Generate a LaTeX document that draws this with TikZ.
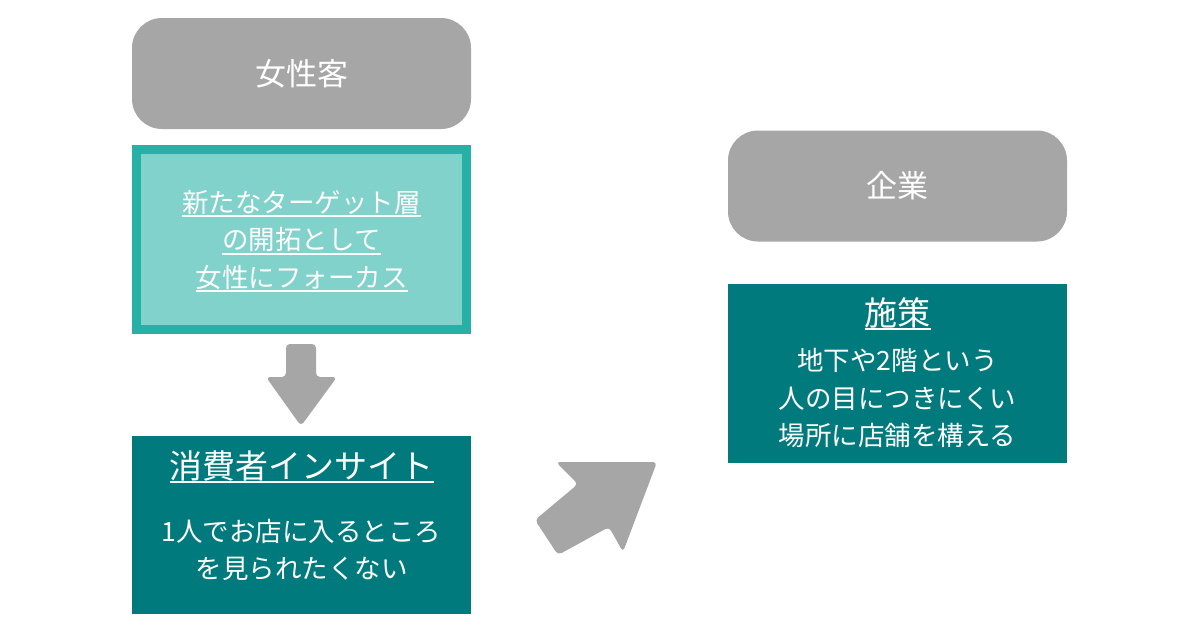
\documentclass[tikz,border=0pt]{standalone}
\usepackage{fontspec}
\setmainfont{Noto Sans CJK JP}
\definecolor{graybox}{HTML}{A6A6A6}
\definecolor{darkteal}{HTML}{007A7D}
\definecolor{lightteal}{HTML}{80D2CA}
\definecolor{tealborder}{HTML}{26B0A6}
\newcommand\ulx[2][-5pt]{\setbox0=\hbox{#2}\rlap{\rule[#1]{\wd0}{1.8pt}}\box0}
\tikzset{
  headbox/.style={fill=graybox, draw=none, rounded corners=30pt, text=white,
    minimum width=339pt, minimum height=111pt, inner sep=0pt,
    font=\fontsize{31}{36}\selectfont},
  darkbox/.style={fill=darkteal, draw=none, text=white, inner sep=0pt},
  bodytext/.style={text=white, align=center, inner sep=0pt,
    font=\fontsize{26.5}{37.5}\selectfont},
  titletext/.style={text=white, align=center, inner sep=0pt,
    font=\fontsize{33}{38}\selectfont},
  blockarrow/.style={fill=graybox, draw=none, rounded corners=4pt},
}
\begin{document}
\begin{tikzpicture}[x=1pt, y=-1pt]
\useasboundingbox[fill=white] (0,0) rectangle (1200,630);

% left column
\node[headbox] (onna) at (301.5,73.5) {女性客};
\node[fill=lightteal, draw=tealborder, line width=9pt, minimum width=330pt,
      minimum height=180pt, inner sep=0pt] (focus) at (301.5,239.5) {};
\node[bodytext] (focustext) at (301.5,241) {\ulx{新たなターゲット層}\\\ulx{の開拓として}\\\ulx{女性にフォーカス}};

\fill[blockarrow] (286,344) -- (316,344) -- (316,377) -- (337,377)
  -- (301,426) -- (266,377) -- (286,377) -- cycle;

\node[darkbox, minimum width=339pt, minimum height=178pt] (insight) at (301.5,525) {};
\node[titletext] (insighttitle) at (301.5,467) {\ulx[-4pt]{消費者インサイト}};
\node[bodytext] (insighttext) at (301.5,550) {1人でお店に入るところ\\を見られたくない};

% diagonal arrow
\fill[blockarrow] (556,462) -- (657,462) -- (623,552) -- (609,527)
  -- (558,555) -- (535,520) -- (578,484) -- cycle;

% right column
\node[headbox] (kigyo) at (897.5,186) {企業};
\node[darkbox, minimum width=339pt, minimum height=179pt] (shisaku) at (897.5,373.5) {};
\node[titletext] (shisakutitle) at (897.5,314) {\ulx[-4pt]{施策}};
\node[bodytext] (shisakutext) at (897.5,398) {地下や2階という\\人の目につきにくい\\場所に店舗を構える};
\end{tikzpicture}
\end{document}
